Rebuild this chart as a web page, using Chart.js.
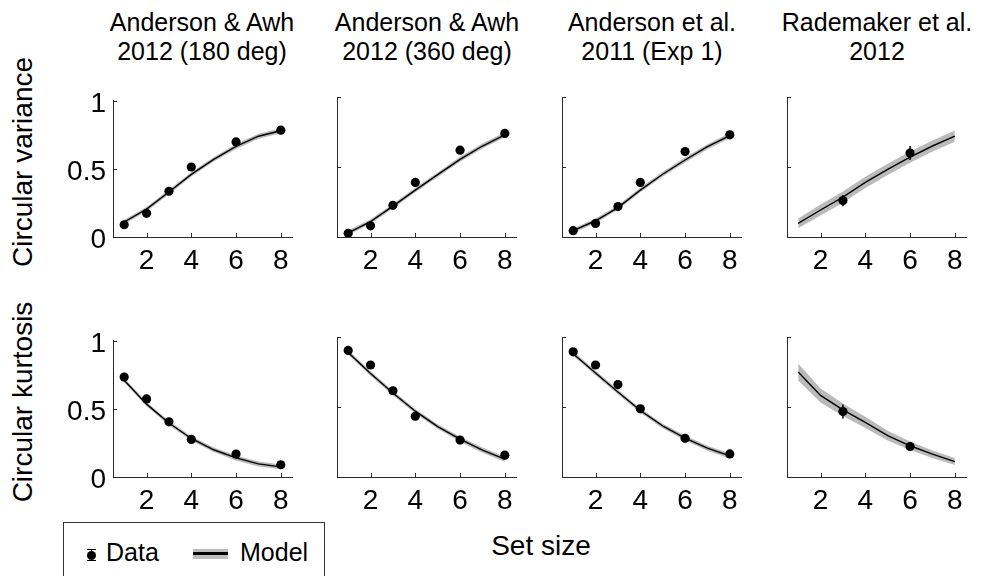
<!DOCTYPE html>
<html>
<head>
<meta charset="utf-8">
<script src="https://cdn.jsdelivr.net/npm/chart.js@4.4.1/dist/chart.umd.min.js"></script>
<style>
  body { margin: 0; background: #fff; }
  #fig { position: relative; width: 992px; height: 576px; overflow: hidden; font-family: "Liberation Sans", Arial, sans-serif; color: #000; }
  #fig canvas { position: absolute; }
  .title { position: absolute; width: 240px; text-align: center; font-size: 25px; line-height: 29px; top: 8px; }
  .ylab { position: absolute; font-size: 28px; white-space: nowrap; transform: translate(-50%, -50%) rotate(-90deg); }
  .xlab { position: absolute; font-size: 28px; white-space: nowrap; transform: translate(-50%, -50%); }
  #legend { position: absolute; left: 63px; top: 522px; width: 262px; height: 70px; border: 1px solid #333; box-sizing: border-box; font-size: 25px; }
  #legend span { position: absolute; }
</style>
</head>
<body>
<div id="fig">
  <div class="title" style="left:82px">Anderson &amp; Awh<br>2012 (180 deg)</div>
  <div class="title" style="left:307px">Anderson &amp; Awh<br>2012 (360 deg)</div>
  <div class="title" style="left:532px">Anderson et al.<br>2011 (Exp 1)</div>
  <div class="title" style="left:757px">Rademaker et al.<br>2012</div>
  <div class="ylab" style="left:23px; top:162px">Circular variance</div>
  <div class="ylab" style="left:23px; top:402px">Circular kurtosis</div>
  <div class="xlab" style="left:541px; top:546px">Set size</div>
  <div id="legend">
    <span style="left:23px; top:26px; width:9px; height:1px; background:#000"></span>
    <span style="left:27px; top:26px; width:1px; height:12px; background:#000"></span>
    <span style="left:23px; top:37px; width:9px; height:1px; background:#000"></span>
    <span style="left:23px; top:28px; width:9px; height:9px; border-radius:50%; background:#000"></span>
    <span style="left:42px; top:15px">Data</span>
    <span style="left:129px; top:26px; width:35px; height:10px; background:#bdbdbd"></span>
    <span style="left:129px; top:29px; width:35px; height:3px; background:#000"></span>
    <span style="left:176px; top:15px">Model</span>
  </div>
  <canvas id="c0" width="251" height="205"></canvas>
  <canvas id="c1" width="251" height="205"></canvas>
  <canvas id="c2" width="251" height="205"></canvas>
  <canvas id="c3" width="251" height="205"></canvas>
  <canvas id="c4" width="251" height="205"></canvas>
  <canvas id="c5" width="251" height="205"></canvas>
  <canvas id="c6" width="251" height="205"></canvas>
  <canvas id="c7" width="251" height="205"></canvas>
</div>
<script>
// set sizes
const setSizes = [1, 2, 3, 4, 6, 8];
const radeSizes = [3, 6];
const modelSizes = [1, 2, 3, 4, 5, 6, 7, 8];
const xTicks = [2, 4, 6, 8];
const yTicks = [0, 0.5, 1];
const yTickLabels = ["0", "0.5", "1"];

// circular variance
const varAA180 = [0.09, 0.174, 0.336, 0.514, 0.698, 0.784];
const varAA360 = [0.026, 0.08, 0.226, 0.39, 0.62, 0.74];
const varA2011 = [0.045, 0.097, 0.217, 0.39, 0.61, 0.73];
const varRade = [0.26, 0.6];
const varRadeErr = [0.04, 0.05];

const varAA180Model = [0.11, 0.205, 0.33, 0.46, 0.57, 0.665, 0.74, 0.78];
const varAA360Model = [0.03, 0.11, 0.22, 0.335, 0.445, 0.555, 0.65, 0.73];
const varA2011Model = [0.045, 0.116, 0.21, 0.335, 0.448, 0.55, 0.645, 0.724];
const varRadeModel = [0.098, 0.193, 0.285, 0.39, 0.483, 0.57, 0.65, 0.72];

// circular kurtosis
const kurAA180 = [0.734, 0.573, 0.405, 0.276, 0.168, 0.09];
const kurAA360 = [0.904, 0.8, 0.616, 0.434, 0.264, 0.156];
const kurA2011 = [0.894, 0.8, 0.66, 0.487, 0.276, 0.165];
const kurRade = [0.468, 0.218];
const kurRadeErr = [0.05, 0.02];

const kurAA180Model = [0.71, 0.535, 0.396, 0.283, 0.2, 0.14, 0.096, 0.074];
const kurAA360Model = [0.89, 0.739, 0.6, 0.47, 0.36, 0.27, 0.192, 0.127];
const kurA2011Model = [0.88, 0.743, 0.607, 0.475, 0.365, 0.278, 0.206, 0.151];
const kurRadeModel = [0.75, 0.583, 0.48, 0.39, 0.295, 0.223, 0.163, 0.11];

// small error bars on the big data sets, model band half widths
const smallErr = [0.01, 0.01, 0.012, 0.01, 0.01, 0.01];
const kurA2011Err = [0.01, 0.015, 0.02, 0.015, 0.01, 0.01];
const thinBand = [0.016, 0.016, 0.016, 0.016, 0.016, 0.018, 0.018, 0.018];
const varRadeBand = [0.035, 0.04, 0.04, 0.04, 0.04, 0.04, 0.04, 0.04];
const kurRadeBand = [0.06, 0.05, 0.045, 0.04, 0.035, 0.03, 0.027, 0.025];

const panels = [
  { xs: setSizes, ys: varAA180, err: smallErr, model: varAA180Model, band: thinBand },
  { xs: setSizes, ys: varAA360, err: smallErr, model: varAA360Model, band: thinBand },
  { xs: setSizes, ys: varA2011, err: smallErr, model: varA2011Model, band: thinBand },
  { xs: radeSizes, ys: varRade, err: varRadeErr, model: varRadeModel, band: varRadeBand },
  { xs: setSizes, ys: kurAA180, err: smallErr, model: kurAA180Model, band: thinBand },
  { xs: setSizes, ys: kurAA360, err: smallErr, model: kurAA360Model, band: thinBand },
  { xs: setSizes, ys: kurA2011, err: kurA2011Err, model: kurA2011Model, band: thinBand },
  { xs: radeSizes, ys: kurRade, err: kurRadeErr, model: kurRadeModel, band: kurRadeBand }
];

const colLeft = [113, 337, 562, 787];
const rowTop = [97, 337];
const axisColor = "#2a2a2a";
const fontFam = "'Liberation Sans', Arial, sans-serif";

// matlab style ticks pointing into the axes
const innerTicks = {
  id: "innerTicks",
  afterDraw(chart) {
    const { ctx, chartArea, scales } = chart;
    ctx.save();
    ctx.strokeStyle = axisColor;
    ctx.lineWidth = 1;
    xTicks.forEach(v => {
      const px = Math.round(scales.x.getPixelForValue(v)) + 0.5;
      ctx.beginPath();
      ctx.moveTo(px, chartArea.bottom);
      ctx.lineTo(px, chartArea.bottom - 4);
      ctx.stroke();
    });
    yTicks.forEach(v => {
      const py = Math.round(scales.y.getPixelForValue(v)) + 0.5;
      ctx.beginPath();
      ctx.moveTo(chartArea.left, py);
      ctx.lineTo(chartArea.left + 4, py);
      ctx.stroke();
    });
    ctx.restore();
  }
};

const errorBars = {
  id: "errorBars",
  afterDatasetsDraw(chart, args, opts) {
    if (!opts.errors) return;
    const { ctx, scales } = chart;
    const pts = chart.data.datasets[3].data;
    ctx.save();
    ctx.strokeStyle = "#000";
    ctx.lineWidth = 1.5;
    pts.forEach((p, i) => {
      const px = scales.x.getPixelForValue(p.x);
      ctx.beginPath();
      ctx.moveTo(px, scales.y.getPixelForValue(p.y + opts.errors[i]));
      ctx.lineTo(px, scales.y.getPixelForValue(p.y - opts.errors[i]));
      ctx.stroke();
    });
    ctx.restore();
  }
};

panels.forEach((p, i) => {
  const col = i % 4;
  const row = Math.floor(i / 4);
  const cv = document.getElementById("c" + i);
  cv.style.left = (colLeft[col] - 60) + "px";
  cv.style.top = (rowTop[row] - 20) + "px";

  const lower = modelSizes.map((x, k) => ({ x: x, y: p.model[k] - p.band[k] }));
  const upper = modelSizes.map((x, k) => ({ x: x, y: p.model[k] + p.band[k] }));

  new Chart(cv.getContext("2d"), {
    type: "line",
    data: {
      datasets: [
        { data: lower, borderWidth: 0, pointRadius: 0, fill: false, order: 3 },
        { data: upper, borderWidth: 0, pointRadius: 0, fill: "-1", backgroundColor: "#bababa", order: 2 },
        { data: modelSizes.map((x, k) => ({ x: x, y: p.model[k] })), borderColor: "#000", borderWidth: 1.4, pointRadius: 0, fill: false, order: 1 },
        { data: p.xs.map((x, k) => ({ x: x, y: p.ys[k] })), showLine: false, pointRadius: 4.6, pointBackgroundColor: "#000", pointBorderWidth: 0, order: 0 }
      ]
    },
    options: {
      responsive: false,
      animation: false,
      layout: { padding: { top: 20, right: 12, left: 0, bottom: 0 } },
      scales: {
        x: {
          type: "linear",
          min: 0.5,
          max: 8.5,
          afterBuildTicks: s => { s.ticks = xTicks.map(v => ({ value: v })); },
          afterFit: s => { s.height = 45; },
          grid: { display: false, drawTicks: false },
          border: { display: true, color: axisColor, width: 1 },
          ticks: { color: "#000", font: { family: fontFam, size: 28 }, padding: 7, maxRotation: 0, autoSkip: false }
        },
        y: {
          type: "linear",
          min: 0,
          max: 1,
          afterBuildTicks: s => { s.ticks = yTicks.map(v => ({ value: v })); },
          afterFit: s => { s.width = 60; },
          grid: { display: false, drawTicks: false },
          border: { display: true, color: axisColor, width: 1 },
          ticks: {
            display: col === 0,
            color: "#000",
            font: { family: fontFam, size: 28 },
            padding: 7,
            labelOffset: 3,
            callback: (v, idx) => yTickLabels[idx]
          }
        }
      },
      plugins: {
        legend: { display: false },
        tooltip: { enabled: false },
        errorBars: { errors: p.err }
      }
    },
    plugins: [innerTicks, errorBars]
  });
});
</script>
</body>
</html>
